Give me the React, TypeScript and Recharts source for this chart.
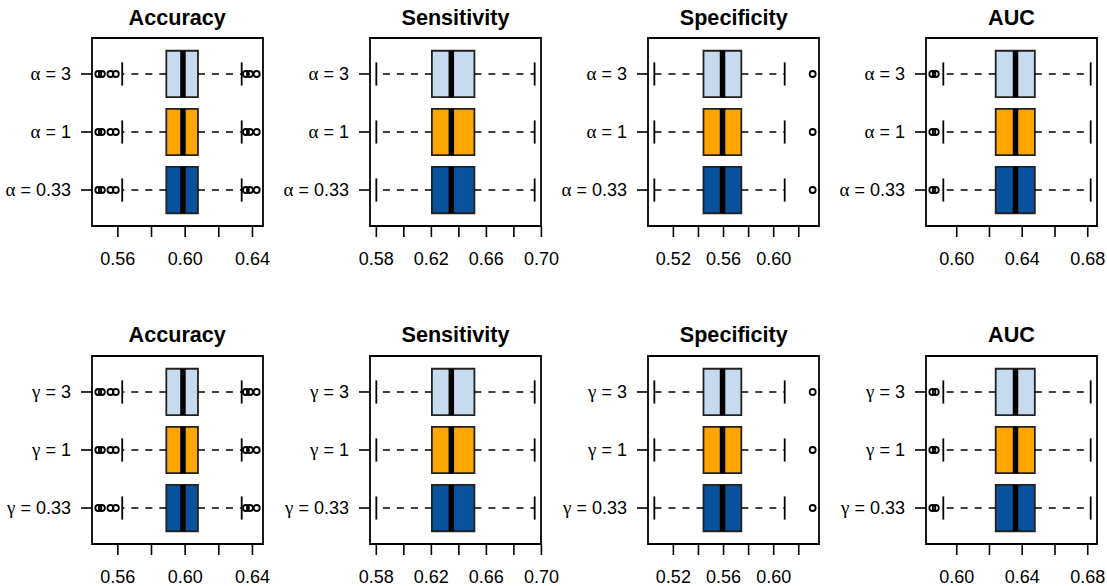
import React from 'react';
import { ComposedChart, XAxis, YAxis, Scatter, ReferenceArea, ReferenceLine } from 'recharts';

// ---------- data ----------
const metricNames = ['Accuracy', 'Sensitivity', 'Specificity', 'AUC'];
const alphaLabels = ['\u03B1 = 0.33', '\u03B1 = 1', '\u03B1 = 3'];
const gammaLabels = ['\u03B3 = 0.33', '\u03B3 = 1', '\u03B3 = 3'];
const rowPositions = [1, 2, 3];

// per row (bottom -> top): [lower whisker, Q1, median, Q3, upper whisker]
const accuracyAlpha = [
  [0.5626, 0.5888, 0.5987, 0.6076, 0.6336],
  [0.5626, 0.5888, 0.5987, 0.6076, 0.6336],
  [0.5626, 0.5888, 0.5987, 0.6076, 0.6336],
];
const accuracyAlphaOut = [
  [0.5484, 0.5505, 0.5556, 0.5588, 0.6361, 0.6385, 0.6425],
  [0.5484, 0.5505, 0.5556, 0.5588, 0.6361, 0.6385, 0.6425],
  [0.5484, 0.5505, 0.5556, 0.5588, 0.6361, 0.6385, 0.6425],
];
const sensitivityAlpha = [
  [0.58, 0.6204, 0.6345, 0.6513, 0.6951],
  [0.58, 0.6204, 0.6345, 0.6513, 0.6951],
  [0.58, 0.6204, 0.6345, 0.6513, 0.6951],
];
const sensitivityAlphaOut = [[], [], []];
const specificityAlpha = [
  [0.5048, 0.544, 0.5592, 0.5742, 0.6088],
  [0.5048, 0.544, 0.5592, 0.5742, 0.6088],
  [0.5048, 0.544, 0.5592, 0.5742, 0.6088],
];
const specificityAlphaOut = [[0.6311], [0.6311], [0.6311]];
const aucAlpha = [
  [0.5918, 0.6238, 0.6359, 0.6477, 0.6818],
  [0.5918, 0.6238, 0.6359, 0.6477, 0.6818],
  [0.5918, 0.6238, 0.6359, 0.6477, 0.6818],
];
const aucAlphaOut = [[0.5851, 0.5872], [0.5851, 0.5872], [0.5851, 0.5872]];

const accuracyGamma = [
  [0.5626, 0.5888, 0.5987, 0.6076, 0.6336],
  [0.5626, 0.5888, 0.5987, 0.6076, 0.6336],
  [0.5626, 0.5888, 0.5987, 0.6076, 0.6336],
];
const accuracyGammaOut = [
  [0.5484, 0.5505, 0.5556, 0.5588, 0.6361, 0.6385, 0.6425],
  [0.5484, 0.5505, 0.5556, 0.5588, 0.6361, 0.6385, 0.6425],
  [0.5484, 0.5505, 0.5556, 0.5588, 0.6361, 0.6385, 0.6425],
];
const sensitivityGamma = [
  [0.58, 0.6204, 0.6345, 0.6513, 0.6951],
  [0.58, 0.6204, 0.6345, 0.6513, 0.6951],
  [0.58, 0.6204, 0.6345, 0.6513, 0.6951],
];
const sensitivityGammaOut = [[], [], []];
const specificityGamma = [
  [0.5048, 0.544, 0.5592, 0.5742, 0.6088],
  [0.5048, 0.544, 0.5592, 0.5742, 0.6088],
  [0.5048, 0.544, 0.5592, 0.5742, 0.6088],
];
const specificityGammaOut = [[0.6311], [0.6311], [0.6311]];
const aucGamma = [
  [0.5918, 0.6238, 0.6359, 0.6477, 0.6818],
  [0.5918, 0.6238, 0.6359, 0.6477, 0.6818],
  [0.5918, 0.6238, 0.6359, 0.6477, 0.6818],
];
const aucGammaOut = [[0.5851, 0.5872], [0.5851, 0.5872], [0.5851, 0.5872]];

const accuracyTicks = [0.56, 0.58, 0.6, 0.62, 0.64];
const accuracyTickLabels = ['0.56', '', '0.60', '', '0.64'];
const sensitivityTicks = [0.58, 0.6, 0.62, 0.64, 0.66, 0.68, 0.7];
const sensitivityTickLabels = ['0.58', '', '0.62', '', '0.66', '', '0.70'];
const specificityTicks = [0.52, 0.54, 0.56, 0.58, 0.6, 0.62];
const specificityTickLabels = ['0.52', '', '0.56', '', '0.60', ''];
const aucTicks = [0.6, 0.62, 0.64, 0.66, 0.68];
const aucTickLabels = ['0.60', '', '0.64', '', '0.68'];

// ---------- styling ----------
const boxColors = ['#08519C', '#FFA500', '#C6DBEF'];
const FONT = '"Liberation Sans", Arial, Helvetica, sans-serif';
const GREEK_FONT = '"Liberation Serif", "DejaVu Serif", serif';
const plotLefts = [91.7, 370, 648.3, 926];
const plotTops = [38, 355.5];
const PLOT_W = 171;
const PLOT_H = 188;
const Y_AXIS_W = 92;
const TOP_M = 38;
const X_AXIS_H = 60;
const RIGHT_M = 30;
const BOX_HALF = 0.4;
const STAPLE_HALF = 0.2;

type PanelDef = {
  title: string;
  stats: number[][];
  outliers: number[][];
  ticks: number[];
  tickLabels: string[];
  rowLabels: string[];
};

const topPanels: PanelDef[] = [
  { title: metricNames[0], stats: accuracyAlpha, outliers: accuracyAlphaOut, ticks: accuracyTicks, tickLabels: accuracyTickLabels, rowLabels: alphaLabels },
  { title: metricNames[1], stats: sensitivityAlpha, outliers: sensitivityAlphaOut, ticks: sensitivityTicks, tickLabels: sensitivityTickLabels, rowLabels: alphaLabels },
  { title: metricNames[2], stats: specificityAlpha, outliers: specificityAlphaOut, ticks: specificityTicks, tickLabels: specificityTickLabels, rowLabels: alphaLabels },
  { title: metricNames[3], stats: aucAlpha, outliers: aucAlphaOut, ticks: aucTicks, tickLabels: aucTickLabels, rowLabels: alphaLabels },
];
const bottomPanels: PanelDef[] = [
  { title: metricNames[0], stats: accuracyGamma, outliers: accuracyGammaOut, ticks: accuracyTicks, tickLabels: accuracyTickLabels, rowLabels: gammaLabels },
  { title: metricNames[1], stats: sensitivityGamma, outliers: sensitivityGammaOut, ticks: sensitivityTicks, tickLabels: sensitivityTickLabels, rowLabels: gammaLabels },
  { title: metricNames[2], stats: specificityGamma, outliers: specificityGammaOut, ticks: specificityTicks, tickLabels: specificityTickLabels, rowLabels: gammaLabels },
  { title: metricNames[3], stats: aucGamma, outliers: aucGammaOut, ticks: aucTicks, tickLabels: aucTickLabels, rowLabels: gammaLabels },
];

const OutlierDot = (props: any) => {
  const { cx, cy } = props;
  if (cx == null || cy == null) return null;
  return <circle cx={cx} cy={cy} r={3} fill="none" stroke="#000" strokeWidth={1.8} />;
};

const makeRowTick = (labels: string[]) => (props: any) => {
  const { x, y, payload } = props;
  const label = labels[rowPositions.indexOf(payload.value)] ?? '';
  const greek = label.slice(0, 1);
  const rest = label.slice(1);
  return (
    <text x={x} y={y} dy="0.355em" textAnchor="end" fontSize={18} fill="#000" fontFamily={FONT}>
      <tspan fontFamily={GREEK_FONT} fontSize={19}>{greek}</tspan>
      <tspan>{rest}</tspan>
    </text>
  );
};

function Panel({ def, left, top }: { def: PanelDef; left: number; top: number }) {
  const all: number[] = [];
  def.stats.forEach((s) => all.push(s[0], s[4]));
  def.outliers.forEach((o) => o.forEach((v) => all.push(v)));
  const mn = Math.min(...all);
  const mx = Math.max(...all);
  const pad = (mx - mn) * 0.04;
  const domain: [number, number] = [mn - pad, mx + pad];
  const yDomain: [number, number] = [0.38, 3.62];

  const outlierData: { x: number; y: number }[] = [];
  def.outliers.forEach((o, i) => o.forEach((v) => outlierData.push({ x: v, y: rowPositions[i] })));

  const width = Y_AXIS_W + PLOT_W + RIGHT_M;
  const height = TOP_M + PLOT_H + X_AXIS_H;

  return (
    <div style={{ position: 'absolute', left: left - Y_AXIS_W, top: top - TOP_M, width, height }}>
      <div
        style={{
          position: 'absolute',
          left: Y_AXIS_W,
          width: PLOT_W,
          top: 6.7,
          textAlign: 'center',
          fontFamily: FONT,
          fontWeight: 'bold',
          fontSize: 21.6,
          lineHeight: '21.6px',
          color: '#000',
          whiteSpace: 'nowrap',
        }}
      >
        {def.title}
      </div>
      <ComposedChart
        width={width}
        height={height}
        margin={{ top: TOP_M, right: RIGHT_M, bottom: 0, left: 0 }}
        style={{ fontFamily: FONT }}
      >
        <XAxis
          type="number"
          dataKey="x"
          domain={domain}
          allowDataOverflow
          ticks={def.ticks}
          interval={0}
          tickFormatter={(v: number) => def.tickLabels[def.ticks.findIndex((t) => Math.abs(t - v) < 1e-9)] ?? ''}
          tickSize={11}
          tickMargin={15}
          height={X_AXIS_H}
          axisLine={false}
          tickLine={{ stroke: '#000', strokeWidth: 1.6 }}
          tick={{ fontSize: 18, fill: '#000', fontFamily: FONT }}
        />
        <YAxis
          type="number"
          dataKey="y"
          domain={yDomain}
          allowDataOverflow
          ticks={rowPositions}
          interval={0}
          tickSize={11}
          tickMargin={10}
          width={Y_AXIS_W}
          axisLine={false}
          tickLine={{ stroke: '#000', strokeWidth: 1.6 }}
          tick={makeRowTick(def.rowLabels)}
        />
        {def.stats.map((s, i) => {
          const y = rowPositions[i];
          return (
            <React.Fragment key={`w${i}`}>
              <ReferenceLine
                segment={[{ x: s[1], y }, { x: s[0], y }]}
                stroke="#000"
                strokeWidth={1.6}
                strokeDasharray="7 7"
              />
              <ReferenceLine
                segment={[{ x: s[3], y }, { x: s[4], y }]}
                stroke="#000"
                strokeWidth={1.6}
                strokeDasharray="7 7"
              />
              <ReferenceLine
                segment={[{ x: s[0], y: y - STAPLE_HALF }, { x: s[0], y: y + STAPLE_HALF }]}
                stroke="#000"
                strokeWidth={1.8}
              />
              <ReferenceLine
                segment={[{ x: s[4], y: y - STAPLE_HALF }, { x: s[4], y: y + STAPLE_HALF }]}
                stroke="#000"
                strokeWidth={1.8}
              />
            </React.Fragment>
          );
        })}
        {def.stats.map((s, i) => {
          const y = rowPositions[i];
          return (
            <ReferenceArea
              key={`b${i}`}
              x1={s[1]}
              x2={s[3]}
              y1={y - BOX_HALF}
              y2={y + BOX_HALF}
              fill={boxColors[i]}
              fillOpacity={1}
              stroke="#222"
              strokeWidth={1.8}
            />
          );
        })}
        {def.stats.map((s, i) => {
          const y = rowPositions[i];
          return (
            <ReferenceLine
              key={`m${i}`}
              segment={[{ x: s[2], y: y - BOX_HALF }, { x: s[2], y: y + BOX_HALF }]}
              stroke="#000"
              strokeWidth={5.5}
            />
          );
        })}
        <ReferenceArea
          x1={domain[0]}
          x2={domain[1]}
          y1={yDomain[0]}
          y2={yDomain[1]}
          fill="none"
          fillOpacity={0}
          stroke="#000"
          strokeWidth={1.8}
          ifOverflow="visible"
        />
        <Scatter data={outlierData} shape={OutlierDot} isAnimationActive={false} />
      </ComposedChart>
    </div>
  );
}

export default function App() {
  return (
    <div style={{ position: 'absolute', left: 0, top: 0, width: 1107, height: 586, background: '#fff', overflow: 'hidden' }}>
      {topPanels.map((d, i) => (
        <Panel key={`t${i}`} def={d} left={plotLefts[i]} top={plotTops[0]} />
      ))}
      {bottomPanels.map((d, i) => (
        <Panel key={`bt${i}`} def={d} left={plotLefts[i]} top={plotTops[1]} />
      ))}
    </div>
  );
}
